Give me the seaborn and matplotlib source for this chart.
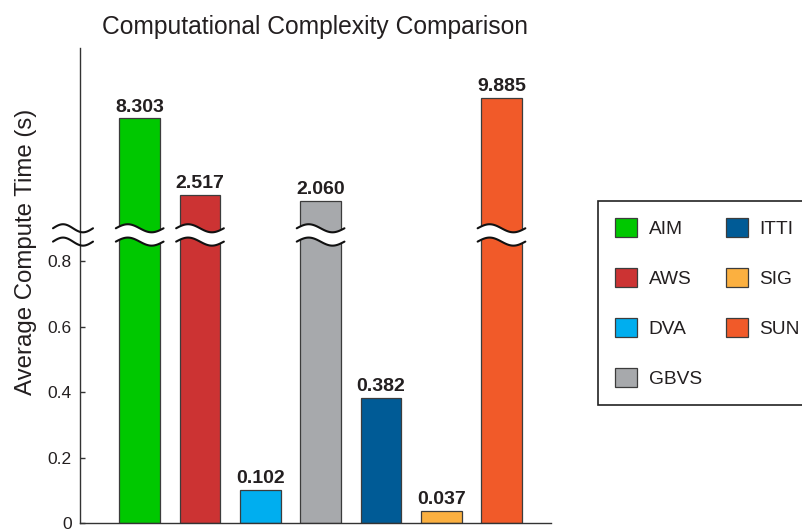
import numpy as np
import matplotlib
matplotlib.use("Agg")
import matplotlib.pyplot as plt
import seaborn as sns
from matplotlib.patches import Patch
from matplotlib.lines import Line2D
from matplotlib.patches import Polygon
from matplotlib.transforms import IdentityTransform

# ---- data -------------------------------------------------------------
methods = ["AIM", "AWS", "DVA", "GBVS", "ITTI", "SIG", "SUN"]
compute_time = [8.303, 2.517, 0.102, 2.060, 0.382, 0.037, 9.885]
bar_colors = ["#00c800", "#cc3333", "#00aeef", "#a7a9ac", "#005b96", "#fbb040", "#f15a29"]
ytick_values = [0, 0.2, 0.4, 0.6, 0.8]
ytick_labels = ["0", "0.2", "0.4", "0.6", "0.8"]

# ---- broken y scale: linear up to BREAK, compressed above it ------------
BREAK = 0.881
UPPER_SLOPE = 0.0404
UPPER_OFFSET = 0.9017
Y_TOP = 13.64


def fwd(v):
    v = np.asarray(v, dtype=float)
    return np.where(v <= BREAK, v, UPPER_OFFSET + UPPER_SLOPE * v)


def inv(y):
    y = np.asarray(y, dtype=float)
    jump = UPPER_OFFSET + UPPER_SLOPE * BREAK
    return np.where(y <= BREAK, y,
                    np.where(y >= jump, (y - UPPER_OFFSET) / UPPER_SLOPE, BREAK))


sns.set_theme(style="ticks")
plt.rcParams["font.family"] = ["Liberation Sans", "DejaVu Sans"]
TEXT = "#231f20"

fig = plt.figure(figsize=(8.02, 5.29), dpi=100)
ax = fig.add_axes([80 / 802, 6 / 529, 470.7 / 802, 475 / 529])

sns.barplot(x=methods, y=compute_time, hue=methods, palette=bar_colors,
            legend=False, width=0.675, edgecolor="#3c3c3c", linewidth=0.9,
            saturation=1, ax=ax)

ax.set_yscale("function", functions=(fwd, inv))
ax.set_ylim(0, Y_TOP)
ax.set_xlim(-0.99, 6.816)

ax.set_yticks(ytick_values)
ax.set_yticklabels(ytick_labels)
ax.yaxis.set_minor_locator(matplotlib.ticker.NullLocator())
ax.set_xticks([])
ax.tick_params(axis="y", direction="in", length=3.6, width=1.0,
               color="#333333", labelsize=12.5, labelcolor=TEXT, pad=5.8)
for side in ("top", "right"):
    ax.spines[side].set_visible(False)
for side in ("left", "bottom"):
    ax.spines[side].set_color("#333333")
    ax.spines[side].set_linewidth(1.0)

ax.set_xlabel("")
ax.set_ylabel("Average Compute Time (s)", fontsize=17.3, color=TEXT)
ax.yaxis.set_label_coords(-0.0914, 0.5705)
ax.set_title("Computational Complexity Comparison", fontsize=17.7,
             color=TEXT, pad=10)

# value labels above each bar
for i, v in enumerate(compute_time):
    ax.annotate(f"{v:.3f}", xy=(i, v), xytext=(0, 2), textcoords="offset points",
                ha="center", va="bottom", fontsize=14, fontweight="bold",
                color=TEXT)

# legend on the right, two columns
handles = [Patch(facecolor=c, edgecolor="#3c3c3c", linewidth=0.9, label=m)
           for m, c in zip(methods, bar_colors)]
leg = fig.legend(handles=handles, ncol=2, loc="upper left",
                 bbox_to_anchor=(598 / 802, 1 - 200.5 / 529),
                 bbox_transform=fig.transFigure, borderaxespad=0,
                 fontsize=13.8, frameon=True, fancybox=False,
                 handlelength=1.15, handleheight=1.2, handletextpad=0.6,
                 labelspacing=1.55, columnspacing=1.25, borderpad=0.9)
leg.get_frame().set_edgecolor("#222222")
leg.get_frame().set_linewidth(1.2)
leg.get_frame().set_alpha(1)
for t in leg.get_texts():
    t.set_color(TEXT)

# ---- break marks (drawn in pixel space around the break level) ---------
px = fig.dpi / 72.0
AMP = 2.9 * px
HALF_GAP = 4.8 * px


def wave(x_left, x_right, y_mid, white):
    t = np.linspace(0, 1, 80)
    xs = x_left + t * (x_right - x_left)
    ys = AMP * np.sin(2 * np.pi * t)
    up = y_mid + HALF_GAP + ys
    lo = y_mid - HALF_GAP + ys
    if white:
        poly = np.column_stack([np.r_[xs, xs[::-1]], np.r_[up, lo[::-1]]])
        fig.add_artist(Polygon(poly, closed=True, facecolor="white",
                               edgecolor="none", transform=IdentityTransform(),
                               zorder=5))
    for yy in (up, lo):
        fig.add_artist(Line2D(xs, yy, color="#111111", lw=1.5,
                              solid_capstyle="round",
                              transform=IdentityTransform(), zorder=6))


# on the y axis
x_axis = ax.transAxes.transform((0, 0))[0]
y_break = ax.transData.transform((0, BREAK))[1]
wave(x_axis - 27, x_axis + 13, y_break, white=False)

# across bars that extend beyond the break
for patch, v in zip(ax.patches, compute_time):
    if v > BREAK:
        xl = ax.transData.transform((patch.get_x(), 0))[0]
        xr = ax.transData.transform((patch.get_x() + patch.get_width(), 0))[0]
        wave(xl - 3.5, xr + 3.5, y_break, white=True)

fig.savefig("out.png", dpi=100)
